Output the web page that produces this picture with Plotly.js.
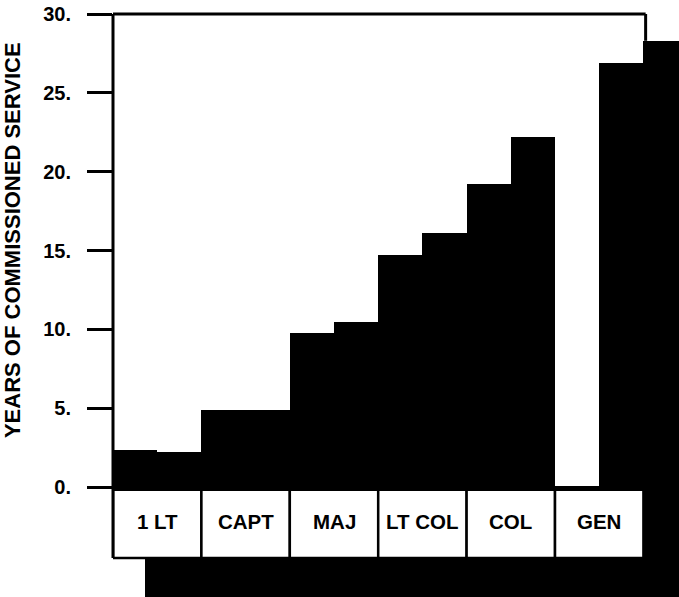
<!DOCTYPE html>
<html>
<head>
<meta charset="utf-8">
<script src="https://cdn.plot.ly/plotly-3.0.1.min.js"></script>
<style>html,body{margin:0;padding:0;background:#fff;}#chart{width:679px;height:597px;}</style>
</head>
<body>
<div id="chart"></div>
<script>
// Data
const ranks = ['1 LT', 'CAPT', 'MAJ', 'LT COL', 'COL', 'GEN'];
const serviceFirst = [2.35, 4.9, 9.75, 14.7, 19.2, 26.9];
const serviceSecond = [2.25, 4.9, 10.45, 16.1, 22.2, 28.3];
const slotFirst = [0, 2, 4, 6, 8, 11];
const slotSecond = [1, 3, 5, 7, 9, 12];
const tickValues = [0, 5, 10, 15, 20, 25, 30];
const tickLabels = ['0.', '5.', '10.', '15.', '20.', '25.', '30.'];
const yTitle = 'YEARS OF COMMISSIONED SERVICE';

const FONT = 'Liberation Sans, Arial, Helvetica, sans-serif';

const traces = [
  {type: 'bar', x: slotFirst, y: serviceFirst, width: 1,
   marker: {color: '#000', line: {width: 0}}, hoverinfo: 'skip', showlegend: false},
  {type: 'bar', x: slotSecond, y: serviceSecond, width: 1,
   marker: {color: '#000', line: {width: 0}}, hoverinfo: 'skip', showlegend: false}
];

const shapes = [];
// black base below the rank boxes
shapes.push({type: 'rect', xref: 'x', yref: 'y', x0: 0.224, x1: 12.5, y0: -7.2, y1: -4.55,
  fillcolor: '#000', line: {width: 0}, layer: 'above'});
// black strip to the right of GEN box
shapes.push({type: 'rect', xref: 'x', yref: 'y', x0: 11.5, x1: 12.5, y0: -7.2, y1: 0,
  fillcolor: '#000', line: {width: 0}, layer: 'above'});
// rank boxes
ranks.forEach((r, i) => {
  shapes.push({type: 'rect', xref: 'x', yref: 'y', x0: 2 * i - 0.5, x1: 2 * i + 1.5,
    y0: -4.5, y1: -0.18, fillcolor: '#fff', line: {color: '#000', width: 2.5}, layer: 'above'});
});
// y axis line
shapes.push({type: 'line', xref: 'paper', yref: 'y', x0: 0, x1: 0, y0: -4.5, y1: 30,
  line: {color: '#000', width: 3}, layer: 'above'});
// top frame line
shapes.push({type: 'line', xref: 'x', yref: 'paper', x0: -0.5, x1: 11.55, y0: 1, y1: 1,
  line: {color: '#000', width: 3}, layer: 'above'});
// right frame stub
shapes.push({type: 'line', xref: 'x', yref: 'y', x0: 11.55, x1: 11.55, y0: 28.3, y1: 30,
  line: {color: '#000', width: 3}, layer: 'above'});

const annotations = ranks.map((r, i) => ({
  xref: 'x', yref: 'y', x: 2 * i + 0.5, y: -2.2, text: r, showarrow: false,
  font: {family: FONT, size: 20.5, color: '#000', weight: 'bold'},
  xanchor: 'center', yanchor: 'middle'
}));
annotations.push({
  xref: 'paper', yref: 'paper', x: -0.1784, y: 0.6123, text: yTitle, textangle: -90,
  showarrow: false, xanchor: 'center', yanchor: 'middle',
  font: {family: FONT, size: 22, color: '#000', weight: 'bold'}
});

const layout = {
  width: 679, height: 597,
  margin: {l: 113, r: 0, t: 14, b: 0, pad: 0},
  paper_bgcolor: '#fff', plot_bgcolor: '#fff',
  barmode: 'overlay', bargap: 0,
  showlegend: false,
  xaxis: {range: [-0.5, 12.305], visible: false, fixedrange: true},
  yaxis: {
    range: [-6.977, 30], tickmode: 'array', tickvals: tickValues, ticktext: tickLabels,
    ticks: 'outside', ticklen: 25, tickwidth: 3, tickcolor: '#000',
    showgrid: false, showline: false,
    zeroline: true, zerolinecolor: '#000', zerolinewidth: 3,
    ticklabelstandoff: 12,
    tickfont: {family: FONT, size: 20, color: '#000', weight: 'bold'},
    fixedrange: true
  },
  shapes: shapes,
  annotations: annotations
};

Plotly.newPlot('chart', traces, layout, {staticPlot: true, displayModeBar: false});
</script>
</body>
</html>
